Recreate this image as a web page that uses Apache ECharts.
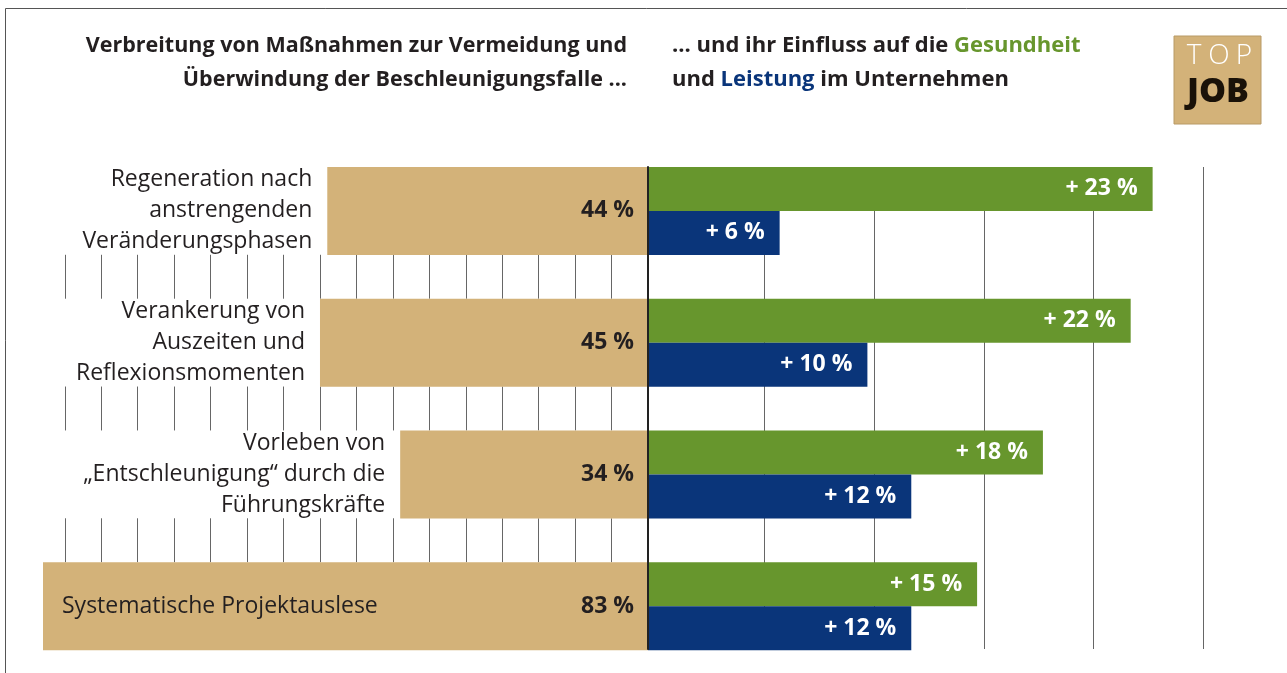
<!DOCTYPE html>
<html>
<head>
<meta charset="utf-8">
<title>Beschleunigungsfalle</title>
<script src="https://cdn.jsdelivr.net/npm/echarts@6/dist/echarts.min.js"></script>
<style>
	html, body { margin: 0; padding: 0; background: #fff; }
	#chart { width: 1287px; height: 673px; }
</style>
</head>
<body>
<div id="chart"></div>
<script>
// Maßnahmen (von oben nach unten)
const categories = [
	'Regeneration nach\nanstrengenden\nVeränderungsphasen',
	'Verankerung von\nAuszeiten und\nReflexionsmomenten',
	'Vorleben von\n„Entschleunigung“ durch die\nFührungskräfte',
	'Systematische Projektauslese'
];
// Verbreitung in %
const spread = [44, 45, 34, 83];
// Einfluss auf Gesundheit / Leistung in %
const health = [23, 22, 18, 15];
const performance = [6, 10, 12, 12];

const TAN = '#D3B279';
const GREEN = '#67962D';
const BLUE = '#0A357A';
const INK = '#231f20';
const FONT = '"Open Sans"';

const chart = echarts.init(document.getElementById('chart'));

// Beschriftung links: Name vor dem Balken, bei sehr langen Balken innen
const spreadItems = spread.map(function (v) {
	if (v > 60) {
		return { value: v, label: { position: 'insideLeft', distance: 19, align: 'left' } };
	}
	return v;
});

const grids = [
	{ left: 43, width: 605, top: 145, height: 527 },    // Verbreitung
	{ left: 648, width: 548.5, top: 145, height: 527 }, // Einfluss
	{ left: 64.8, width: 583.2, top: 167, height: 482 }, // Mittellinie
	{ left: 655, width: 548, top: 167, height: 482 }    // Raster rechts
];
const xAxes = [
	{ gridIndex: 0, type: 'value', inverse: true, min: 0, max: 83, show: false },
	{ gridIndex: 1, type: 'value', min: 0, max: 25, show: false },
	{ gridIndex: 2, type: 'value', inverse: true, min: 0, max: 80, show: false },
	{
		gridIndex: 3, type: 'value', min: 0, max: 25, interval: 5,
		axisLine: { show: false }, axisTick: { show: false }, axisLabel: { show: false },
		splitLine: { show: true, showMinLine: false, lineStyle: { color: '#666', width: 1 } }
	}
];
const yAxes = [
	{ gridIndex: 0, type: 'category', inverse: true, data: categories, show: false },
	{ gridIndex: 1, type: 'category', inverse: true, data: categories, show: false },
	{
		gridIndex: 2, type: 'value', position: 'right', min: 0, max: 1, z: 5,
		axisLine: { show: true, lineStyle: { color: '#222', width: 2 } },
		axisTick: { show: false }, axisLabel: { show: false }, splitLine: { show: false }
	},
	{ gridIndex: 3, type: 'value', show: false }
];

// Raster links nur in den Lücken zwischen den Balken
const band = 527 / categories.length;
for (let i = 0; i < categories.length - 1; i++) {
	const idx = grids.length;
	grids.push({ left: 64.8, width: 583.2, top: 145 + band * i + band * 5 / 6, height: band / 3 });
	xAxes.push({
		gridIndex: idx, type: 'value', inverse: true, min: 0, max: 80, interval: 5,
		axisLine: { show: false }, axisTick: { show: false }, axisLabel: { show: false },
		splitLine: { show: true, showMinLine: false, lineStyle: { color: '#666', width: 1 } }
	});
	yAxes.push({ gridIndex: idx, type: 'value', show: false });
}

const option = {
	backgroundColor: '#fff',
	animation: false,
	grid: grids,
	xAxis: xAxes,
	yAxis: yAxes,
	series: [{
			name: 'Verbreitung',
			type: 'bar',
			xAxisIndex: 0,
			yAxisIndex: 0,
			barWidth: 88,
			itemStyle: { color: TAN },
			label: {
				show: true,
				position: 'left',
				distance: 15,
				formatter: '{b}',
				color: INK,
				fontFamily: FONT,
				fontSize: 23,
				lineHeight: 31,
				align: 'right'
			},
			data: spreadItems
		}, {
			name: 'Verbreitung %',
			type: 'bar',
			xAxisIndex: 0,
			yAxisIndex: 0,
			barWidth: 88,
			barGap: '-100%',
			silent: true,
			itemStyle: { color: 'rgba(0,0,0,0)' },
			label: {
				show: true,
				position: 'insideRight',
				distance: 14,
				formatter: '{c} %',
				color: INK,
				fontFamily: FONT,
				fontWeight: 'bold',
				fontSize: 23
			},
			data: spread
		}, {
			name: 'Gesundheit',
			type: 'bar',
			xAxisIndex: 1,
			yAxisIndex: 1,
			barWidth: 44,
			barGap: 0,
			itemStyle: { color: GREEN },
			label: {
				show: true,
				position: 'insideRight',
				distance: 15,
				formatter: '+ {c} %',
				color: '#fff',
				fontFamily: FONT,
				fontWeight: 'bold',
				fontSize: 23
			},
			data: health
		}, {
			name: 'Leistung',
			type: 'bar',
			xAxisIndex: 1,
			yAxisIndex: 1,
			barWidth: 44,
			barGap: 0,
			itemStyle: { color: BLUE },
			label: {
				show: true,
				position: 'insideRight',
				distance: 15,
				formatter: '+ {c} %',
				color: '#fff',
				fontFamily: FONT,
				fontWeight: 'bold',
				fontSize: 23
			},
			data: performance
		}
	],
	graphic: [
		// Rahmen oben und links
		{ type: 'line', shape: { x1: 5.5, y1: 8.5, x2: 1287, y2: 8.5 }, style: { stroke: '#555', lineWidth: 1 } },
		{ type: 'line', shape: { x1: 5.5, y1: 8.5, x2: 5.5, y2: 673 }, style: { stroke: '#555', lineWidth: 1 } },
		// Überschriften
		{
			type: 'text', x: 627, y: 63,
			style: {
				text: 'Verbreitung von Maßnahmen zur Vermeidung und\nÜberwindung der Beschleunigungsfalle ...',
				align: 'right', verticalAlign: 'middle',
				font: 'bold 21.5px ' + FONT, lineHeight: 34, fill: INK
			}
		},
		{
			type: 'text', x: 672, y: 63,
			style: {
				text: '... und ihr Einfluss auf die {g|Gesundheit}\nund {b|Leistung} im Unternehmen',
				align: 'left', verticalAlign: 'middle',
				font: 'bold 22px ' + FONT, lineHeight: 34, fill: INK,
				rich: {
					g: { fill: GREEN, font: 'bold 22px ' + FONT },
					b: { fill: BLUE, font: 'bold 22px ' + FONT }
				}
			}
		},
		// Logo
		{ type: 'rect', shape: { x: 1174, y: 36, width: 87, height: 88 }, style: { fill: TAN, stroke: '#b89a66', lineWidth: 1 } },
		{ type: 'text', x: 1194, y: 56, style: { text: 'T', align: 'center', verticalAlign: 'middle', font: '300 28px ' + FONT, fill: '#fff' } },
		{ type: 'text', x: 1219, y: 56, style: { text: 'O', align: 'center', verticalAlign: 'middle', font: '300 28px ' + FONT, fill: '#fff' } },
		{ type: 'text', x: 1244, y: 56, style: { text: 'P', align: 'center', verticalAlign: 'middle', font: '300 28px ' + FONT, fill: '#fff' } },
		{ type: 'text', x: 1218, y: 92, style: { text: 'JOB', align: 'center', verticalAlign: 'middle', font: '800 34px ' + FONT, fill: '#1a1208' } }
	]
};

chart.setOption(option);
</script>
</body>
</html>
